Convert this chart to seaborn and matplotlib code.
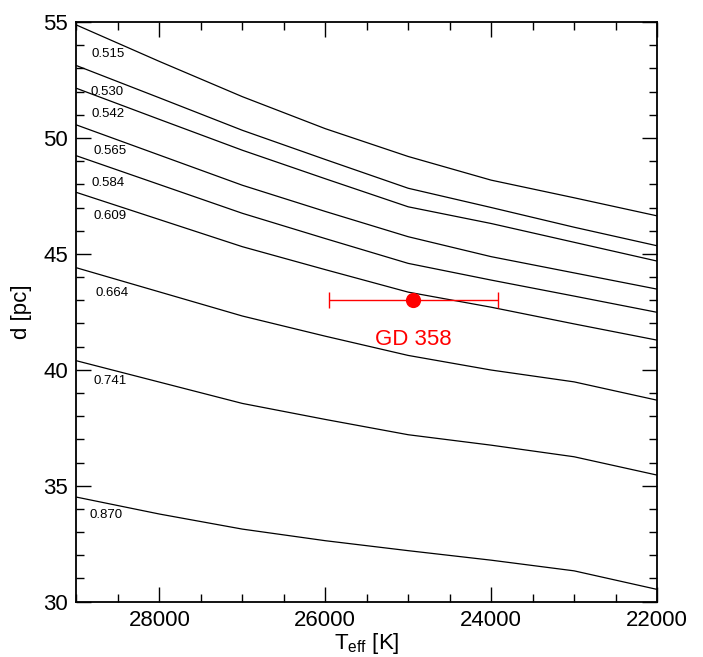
import matplotlib
matplotlib.use("Agg")
import matplotlib.pyplot as plt
from matplotlib.ticker import MultipleLocator
import numpy as np
import pandas as pd
import seaborn as sns

# Data
teff = [29000, 28000, 27000, 26000, 25000, 24000, 23000, 22000]
masses = ["0.515", "0.530", "0.542", "0.565", "0.584", "0.609", "0.664", "0.741", "0.870"]
d_0515 = [54.87, 53.30, 51.78, 50.40, 49.20, 48.18, 47.42, 46.64]
d_0530 = [53.12, 51.73, 50.33, 49.07, 47.83, 47.00, 46.15, 45.35]
d_0542 = [52.14, 50.80, 49.47, 48.24, 47.03, 46.31, 45.50, 44.69]
d_0565 = [50.56, 49.26, 47.96, 46.83, 45.74, 44.88, 44.18, 43.48]
d_0584 = [49.23, 47.99, 46.75, 45.66, 44.59, 43.87, 43.18, 42.48]
d_0609 = [47.65, 46.48, 45.31, 44.32, 43.35, 42.70, 41.98, 41.28]
d_0664 = [44.40, 43.36, 42.32, 41.45, 40.62, 39.99, 39.48, 38.69]
d_0741 = [40.39, 39.47, 38.55, 37.86, 37.20, 36.75, 36.25, 35.46]
d_0870 = [34.51, 33.78, 33.13, 32.63, 32.20, 31.79, 31.33, 30.53]
curves = [d_0515, d_0530, d_0542, d_0565, d_0584, d_0609, d_0664, d_0741, d_0870]

# label anchor positions (Teff, d)
label_teff = [28813, 28829, 28821, 28797, 28821, 28789, 28765, 28789, 28849]
label_d = [53.61, 51.99, 51.02, 49.44, 48.06, 46.63, 43.33, 39.52, 33.74]

star_name = "GD 358"
star_teff = [24937]
star_teff_err = [1018]
star_d = [43.0]

rows = []
for m, ds in zip(masses, curves):
    for t, d in zip(teff, ds):
        rows.append({"Teff": t, "d": d, "mass": m})
df = pd.DataFrame(rows)
star_df = pd.DataFrame({"Teff": star_teff, "d": star_d})

sns.set_style("ticks")
plt.rcParams["font.family"] = ["Liberation Sans", "DejaVu Sans"]
plt.rcParams["mathtext.fontset"] = "custom"
plt.rcParams["mathtext.rm"] = "Liberation Sans"
plt.rcParams["mathtext.it"] = "Liberation Sans"
for k in ["text.color", "axes.labelcolor", "xtick.color", "ytick.color",
          "xtick.labelcolor", "ytick.labelcolor"]:
    plt.rcParams[k] = "black"

fig = plt.figure(figsize=(7.03, 6.57), dpi=100)
ax = fig.add_axes([0.1088, 0.0842, 0.8258, 0.8823])

sns.lineplot(data=df, x="Teff", y="d", hue="mass", units="mass", estimator=None,
             palette=["black"] * len(masses), linewidth=0.9, legend=False, ax=ax,
             sort=False)

for m, t, d in zip(masses, label_teff, label_d):
    ax.text(t, d, m, fontsize=9.5, ha="left", va="center", color="black")

ax.errorbar(star_teff, star_d, xerr=star_teff_err, fmt="none", ecolor="red",
            elinewidth=1.0, capsize=5.8, capthick=1.0)
sns.scatterplot(data=star_df, x="Teff", y="d", color="red", s=120,
                edgecolor="red", linewidth=0, ax=ax, zorder=5)
ax.text(star_teff[0], star_d[0] - 1.7, star_name, color="red", fontsize=16,
        ha="center", va="center")

ax.set_xlim(29000, 22000)
ax.set_ylim(30, 55)
ax.xaxis.set_major_locator(MultipleLocator(2000))
ax.xaxis.set_minor_locator(MultipleLocator(500))
ax.yaxis.set_major_locator(MultipleLocator(5))
ax.yaxis.set_minor_locator(MultipleLocator(1))
ax.tick_params(which="both", direction="in", top=True, right=True,
               labelsize=16, color="black", labelcolor="black", pad=6)
ax.tick_params(which="major", length=11, width=1.0)
ax.tick_params(which="minor", length=5.8, width=1.0)
for s in ax.spines.values():
    s.set_linewidth(1.3)
    s.set_color("black")

ax.set_xlabel(r"T$_{\mathrm{eff}}$ [K]", fontsize=16, labelpad=0)
ax.set_ylabel("d [pc]", fontsize=16, labelpad=8)

fig.savefig("out.png", dpi=100)
